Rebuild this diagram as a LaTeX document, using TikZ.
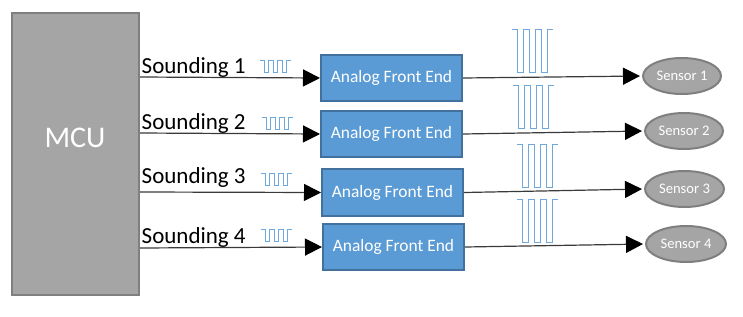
\documentclass[tikz,border=0pt]{standalone}
\usepackage{fontspec}
\setmainfont{Carlito}
\usetikzlibrary{arrows.meta,shapes.geometric}
\definecolor{grayfill}{HTML}{A5A5A5}
\definecolor{grayline}{HTML}{7F7F7F}
\definecolor{afefill}{HTML}{5B9BD5}
\definecolor{afeline}{HTML}{41719C}
\definecolor{wavecol}{HTML}{6FA8DC}
\definecolor{conncol}{HTML}{3A3A3A}
\tikzset{
  mcubox/.style={draw=grayline, fill=grayfill, line width=2pt, minimum width=127pt, minimum height=282pt, inner sep=0pt},
  mcutext/.style={text=white, font=\fontsize{30}{30}\selectfont, inner sep=0pt},
  afe/.style={draw=afeline, fill=afefill, line width=2pt, minimum width=141pt, minimum height=46pt, inner sep=0pt, text=white, font=\fontsize{17.4}{18}\selectfont},
  sensor/.style={ellipse, draw=grayline, fill=grayfill, line width=2pt, minimum width=78pt, minimum height=36pt, inner sep=0pt, text=white, font=\fontsize{14.6}{15}\selectfont},
  slabel/.style={anchor=base west, inner sep=0pt, font=\fontsize{23}{24}\selectfont},
  conn/.style={draw=conncol, line width=1.2pt, -{Triangle[length=17pt,width=17pt,color=black,fill=black]}},
  wave/.style={draw=wavecol, line width=1pt},
  pics/bigwave/.style={code={
    \draw[wave] (0,0) -- ++(5.9,0) -- ++(0,43) -- ++(5.9,0) -- ++(0,-43) -- ++(5.9,0) -- ++(0,43) -- ++(5.9,0) -- ++(0,-43) -- ++(5.9,0) -- ++(0,43) -- ++(5.9,0) -- ++(0,-43) -- ++(5.9,0);
  }},
  pics/smallwave/.style={code={
    \draw[wave] (0,0) -- ++(4.4,0) -- ++(0,12.5) -- ++(4.4,0) -- ++(0,-12.5) -- ++(4.4,0) -- ++(0,12.5) -- ++(4.4,0) -- ++(0,-12.5) -- ++(4.4,0) -- ++(0,12.5) -- ++(4.4,0) -- ++(0,-12.5) -- ++(4.4,0);
  }}
}
\begin{document}
\begin{tikzpicture}[x=1pt,y=-1pt]
\useasboundingbox (0,0) rectangle (743,316);
\fill[white] (0,0) rectangle (743,316);
% MCU
\node[mcubox] (mcu) at (75.8,154.2) {};
\node[mcutext] (mcut) at (75,138) {MCU};
% AFE boxes
\node[afe] (a1) at (391.5,78) {Analog Front End};
\node[afe] (a2) at (391.5,134) {Analog Front End};
\node[afe, minimum height=47pt] (a3) at (392.5,192.5) {Analog Front End};
\node[afe] (a4) at (393.5,247) {Analog Front End};
% Sensors
\node[sensor] (s1) at (682,76) {Sensor 1};
\node[sensor] (s2) at (684,131) {Sensor 2};
\node[sensor, minimum width=79pt] (s3) at (684.5,189) {Sensor 3};
\node[sensor, minimum width=80pt] (s4) at (686,244) {Sensor 4};
% labels
\node[slabel] (l1) at (141.5,73) {Sounding 1};
\node[slabel] (l2) at (141.5,129) {Sounding 2};
\node[slabel] (l3) at (141.5,183) {Sounding 3};
\node[slabel] (l4) at (141.5,243) {Sounding 4};
% connector start points
\coordinate (m1) at (140,77);
\coordinate (m2) at (140,133);
\coordinate (m3) at (140,192);
\coordinate (m4) at (140,248);
\draw[conn] (m1) -- (a1.west);
\draw[conn] (m2) -- (a2.west);
\draw[conn] (m3) -- (a3.west);
\draw[conn] (m4) -- (a4.west);
\draw[conn, shorten >=2pt] (a1.east) -- (s1.west);
\draw[conn, shorten >=2pt] (a2.east) -- (s2.west);
\draw[conn, shorten >=2pt] (a3.east) -- (s3.west);
\draw[conn, shorten >=2pt] (a4.east) -- (s4.west);
% small waves
\pic at (260,60) {smallwave};
\pic at (262,117) {smallwave};
\pic at (261,173) {smallwave};
\pic at (261,229) {smallwave};
% big waves
\pic at (512,29) {bigwave};
\pic at (513,85) {bigwave};
\pic at (517,144) {bigwave};
\pic at (517,199) {bigwave};
\end{tikzpicture}
\end{document}
